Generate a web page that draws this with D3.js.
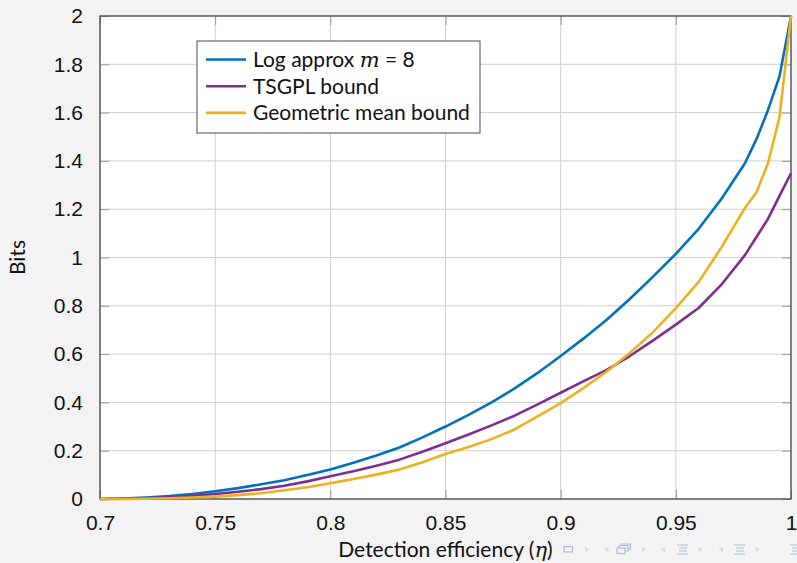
<!DOCTYPE html>
<html>
<head>
<meta charset="utf-8">
<script src="https://cdn.jsdelivr.net/npm/d3@7"></script>
<style>
  body { margin: 0; background: #f3f3f3; }
  svg { display: block; font-family: "Lato", "DejaVu Sans", sans-serif; }
  .tick text { font-size: 21px; fill: #111; }
</style>
</head>
<body>
<div id="chart"></div>
<script>
// detection efficiency samples (eta)
var eta = [0.70, 0.71, 0.72, 0.73, 0.74, 0.75, 0.76, 0.77, 0.78, 0.79,
           0.80, 0.81, 0.82, 0.83, 0.84, 0.85, 0.86, 0.87, 0.88, 0.89,
           0.90, 0.91, 0.92, 0.93, 0.94, 0.95, 0.96, 0.97, 0.98, 0.985,
           0.99, 0.995, 1.00];

// Log approx m = 8
var logApprox = [0, 0.002, 0.006, 0.012, 0.021, 0.032, 0.045, 0.061, 0.078, 0.099,
                 0.122, 0.150, 0.180, 0.213, 0.255, 0.300, 0.348, 0.400, 0.458, 0.522,
                 0.592, 0.665, 0.742, 0.828, 0.920, 1.015, 1.12, 1.245, 1.39, 1.49,
                 1.61, 1.75, 2.0];

// TSGPL bound
var tsgpl = [0, 0.001, 0.003, 0.007, 0.013, 0.021, 0.030, 0.041, 0.055, 0.073,
             0.094, 0.115, 0.138, 0.163, 0.196, 0.231, 0.267, 0.305, 0.345, 0.392,
             0.440, 0.488, 0.535, 0.592, 0.656, 0.722, 0.792, 0.890, 1.010, 1.085,
             1.160, 1.255, 1.349];

// Geometric mean bound
var geoMean = [0, 0.000, 0.001, 0.003, 0.006, 0.010, 0.016, 0.024, 0.036, 0.049,
               0.065, 0.083, 0.101, 0.122, 0.152, 0.186, 0.215, 0.248, 0.288, 0.342,
               0.397, 0.460, 0.528, 0.605, 0.690, 0.790, 0.900, 1.045, 1.205, 1.27,
               1.39, 1.58, 2.0];

var xTicks = [0.7, 0.75, 0.8, 0.85, 0.9, 0.95, 1];
var yTicks = [0, 0.2, 0.4, 0.6, 0.8, 1, 1.2, 1.4, 1.6, 1.8, 2];

var seriesNames = ["Log approx", "TSGPL bound", "Geometric mean bound"];
var seriesColors = ["#0072BD", "#7E2F8E", "#EDB120"];

var svgWidth = 797;
var svgHeight = 563;

const margin = { top: 16, bottom: 64, right: 6, left: 100 };
var chartWidth = svgWidth - margin.left - margin.right;
var chartHeight = svgHeight - margin.top - margin.bottom;

var svg = d3.select("#chart").append("svg")
    .attr("width", svgWidth)
    .attr("height", svgHeight);

const chartGroup = svg.append("g")
    .attr("transform", `translate(${margin.left}, ${margin.top})`);

const xScale = d3.scaleLinear().domain([0.7, 1]).range([0, chartWidth]);
const yScale = d3.scaleLinear().domain([0, 2]).range([chartHeight, 0]);

// white plot area
chartGroup.append("rect")
    .attr("width", chartWidth)
    .attr("height", chartHeight)
    .attr("fill", "#fff");

// grid
chartGroup.selectAll(".xgrid").data(xTicks).enter().append("line")
    .attr("x1", d => xScale(d)).attr("x2", d => xScale(d))
    .attr("y1", 0).attr("y2", chartHeight)
    .attr("stroke", "#cfcfcf").attr("stroke-width", 1);
chartGroup.selectAll(".ygrid").data(yTicks).enter().append("line")
    .attr("y1", d => yScale(d)).attr("y2", d => yScale(d))
    .attr("x1", 0).attr("x2", chartWidth)
    .attr("stroke", "#cfcfcf").attr("stroke-width", 1);

// axes with inward ticks
const xAxis = d3.axisBottom(xScale).tickValues(xTicks).tickSizeInner(-9).tickSizeOuter(0)
    .tickPadding(16).tickFormat(d3.format("~g"));
const yAxis = d3.axisLeft(yScale).tickValues(yTicks).tickSizeInner(-9).tickSizeOuter(0)
    .tickPadding(17).tickFormat(d3.format("~g"));
const xAxisTop = d3.axisTop(xScale).tickValues(xTicks).tickSizeInner(-9).tickSizeOuter(0).tickFormat("");
const yAxisRight = d3.axisRight(yScale).tickValues(yTicks).tickSizeInner(-9).tickSizeOuter(0).tickFormat("");

[
  chartGroup.append("g").attr("transform", `translate(0, ${chartHeight})`).call(xAxis),
  chartGroup.append("g").call(yAxis),
  chartGroup.append("g").call(xAxisTop),
  chartGroup.append("g").attr("transform", `translate(${chartWidth}, 0)`).call(yAxisRight)
].forEach(function(g) {
  g.select(".domain").remove();
  g.selectAll(".tick line").attr("stroke", "#9a9a9a");
  g.selectAll("text").attr("font-family", null).attr("font-size", null);
});

// box
chartGroup.append("rect")
    .attr("width", chartWidth)
    .attr("height", chartHeight)
    .attr("fill", "none")
    .attr("stroke", "#4a4a4a")
    .attr("stroke-width", 1.3);

// curves
var lineGen = d3.line()
    .x((d, i) => xScale(eta[i]))
    .y(d => yScale(d));

[logApprox, tsgpl, geoMean].forEach(function(values, i) {
  chartGroup.append("path")
      .datum(values)
      .attr("fill", "none")
      .attr("stroke", seriesColors[i])
      .attr("stroke-width", 2.6)
      .attr("stroke-linejoin", "round")
      .attr("d", lineGen);
});

// legend
var legend = svg.append("g").attr("transform", "translate(197, 41)");
legend.append("rect")
    .attr("width", 283).attr("height", 92)
    .attr("fill", "#fff").attr("stroke", "#4a4a4a").attr("stroke-width", 1);

seriesNames.forEach(function(name, i) {
  var row = legend.append("g").attr("transform", `translate(0, ${18.5 + i * 26.7})`);
  row.append("line")
      .attr("x1", 9).attr("x2", 49)
      .attr("stroke", seriesColors[i]).attr("stroke-width", 2.6);
  var t = row.append("text")
      .attr("x", 56).attr("dy", "0.35em")
      .attr("font-size", 21).attr("fill", "#111");
  t.append("tspan").text(name);
  if (i === 0) {
    t.append("tspan").text(" ");
    t.append("tspan").attr("font-style", "italic").attr("font-family", "DejaVu Serif").text("m");
    t.append("tspan").text(" = 8");
  }
});

// axis labels
svg.append("text")
    .attr("transform", `translate(25, ${margin.top + chartHeight / 2}) rotate(-90)`)
    .attr("text-anchor", "middle")
    .attr("font-size", 21).attr("fill", "#111")
    .text("Bits");

var xLabel = svg.append("text")
    .attr("x", margin.left + chartWidth / 2)
    .attr("y", 557)
    .attr("text-anchor", "middle")
    .attr("font-size", 21).attr("fill", "#111");
xLabel.append("tspan").text("Detection efficiency (");
xLabel.append("tspan").attr("font-style", "italic").attr("font-family", "DejaVu Serif").text("η");
xLabel.append("tspan").text(")");

// beamer navigation symbols
var nav = svg.append("g").attr("fill", "none");
var light = "#d3dae9", mid = "#aebbd8";
function tri(x, dir) {
  var p = dir > 0 ? `M${x},547 L${x + 4.5},549.5 L${x},552 Z` : `M${x + 4.5},547 L${x},549.5 L${x + 4.5},552 Z`;
  nav.append("path").attr("d", p).attr("fill", light);
}
nav.append("rect").attr("x", 564).attr("y", 546.5).attr("width", 8.5).attr("height", 5.5)
    .attr("stroke", mid).attr("stroke-width", 1.2);
tri(585, 1); tri(604, -1);
nav.append("rect").attr("x", 617).attr("y", 548).attr("width", 8).attr("height", 5.5)
    .attr("stroke", mid).attr("stroke-width", 1.2);
nav.append("path").attr("d", "M619,548 V545.5 H628 V551 H626 M621,545.5 V544 H630.5 V549 H628")
    .attr("stroke", mid).attr("stroke-width", 1.2);
tri(642, 1); tri(660.5, -1);
function lines(x) {
  nav.append("path")
      .attr("d", `M${x},545 H${x + 11} M${x + 2},548 H${x + 10} M${x + 2},551 H${x + 10} M${x},554 H${x + 11}`)
      .attr("stroke", mid).attr("stroke-width", 1.2);
}
lines(677); tri(698.5, 1); tri(718.5, -1);
lines(734); tri(755.5, 1);
lines(790);
</script>
</body>
</html>
